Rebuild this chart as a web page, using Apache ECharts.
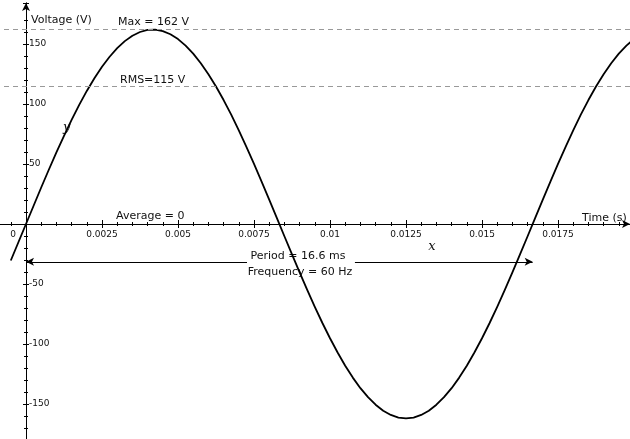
<!DOCTYPE html>
<html>
<head>
<meta charset="UTF-8">
<title>Voltage</title>
<style>
  html, body { margin: 0; padding: 0; background: #fff; }
  #main { width: 630px; height: 439px; }
</style>
</head>
<body>
<div id="main"></div>
<script src="https://cdn.jsdelivr.net/npm/echarts@6/dist/echarts.min.js"></script>
<script>
// samples: time in ms, voltage in V
var timesMs = [-0.5, -0.25, 0, 0.25, 0.5, 0.75, 1, 1.25, 1.5, 1.75,
  2, 2.25, 2.5, 2.75, 3, 3.25, 3.5, 3.75, 4, 4.25,
  4.5, 4.75, 5, 5.25, 5.5, 5.75, 6, 6.25, 6.5, 6.75,
  7, 7.25, 7.5, 7.75, 8, 8.25, 8.5, 8.75, 9, 9.25,
  9.5, 9.75, 10, 10.25, 10.5, 10.75, 11, 11.25, 11.5, 11.75,
  12, 12.25, 12.5, 12.75, 13, 13.25, 13.5, 13.75, 14, 14.25,
  14.5, 14.75, 15, 15.25, 15.5, 15.75, 16, 16.25, 16.5, 16.75,
  17, 17.25, 17.5, 17.75, 18, 18.25, 18.5, 18.75, 19, 19.25,
  19.5, 19.75, 20];
var volts = [-30.4, -15.2, 0, 15.2, 30.4, 45.2, 59.6, 73.5, 86.8, 99.3,
  110.9, 121.5, 131.1, 139.4, 146.6, 152.4, 156.9, 160, 161.7, 161.9,
  160.7, 158.1, 154.1, 148.7, 142, 134, 124.8, 114.6, 103.3, 91.1,
  78.1, 64.3, 50.1, 35.3, 20.3, 5.1, -10.2, -25.3, -40.3, -54.9,
  -69, -82.5, -95.2, -107.1, -118.1, -128, -136.8, -144.3, -150.6, -155.6,
  -159.1, -161.3, -162, -161.3, -159.1, -155.6, -150.6, -144.3, -136.8, -128,
  -118.1, -107.1, -95.2, -82.5, -69, -54.9, -40.3, -25.3, -10.2, 5.1,
  20.3, 35.3, 50.1, 64.3, 78.1, 91.1, 103.3, 114.6, 124.8, 134,
  142, 148.7, 154.1];

var vMax = 162;
var vRms = 115;
var period = 1 / 60;
var periodArrowY = -31.5;

var xTickStep = 0.0025;
var yTickStep = 50;

var FONT = 'DejaVu Sans';
var ink = '#111';

var myChart = echarts.init(document.getElementById('main'));

// grid spans x -50..630 px and y 3..464 px; zero sits at (26, 224)
var xRange = { min: -0.0025, max: 0.019868, interval: xTickStep };
var yRange = { min: -200, max: 184.17, interval: yTickStep };

function xLabel(v) {
  if (v === 0) return '{z|0}';
  return String(+v.toFixed(4));
}

var option = {
  animation: false,
  backgroundColor: '#fff',
  grid: { left: -50, right: 0, top: 3, bottom: -25, containLabel: false, outerBoundsMode: 'none' },
  xAxis: [{
    type: 'value', position: 'bottom', offset: -240,
    min: xRange.min, max: xRange.max, interval: xRange.interval,
    axisLine: { onZero: false, symbol: ['none', 'arrow'], symbolSize: [6, 8],
      lineStyle: { color: '#000', width: 1 } },
    axisTick: { show: true, length: 4, lineStyle: { color: '#000' } },
    minorTick: { show: true, splitNumber: 5, length: 2, lineStyle: { color: '#000' } },
    splitLine: { show: false },
    axisLabel: {
      margin: 6, fontSize: 9, fontFamily: FONT, color: ink,
      showMinLabel: false, showMaxLabel: false,
      formatter: xLabel,
      rich: { z: { fontSize: 9, fontFamily: FONT, color: ink, padding: [0, 26, 0, 0] } }
    }
  }, {
    // second copy only for the upper half of the ticks
    type: 'value', position: 'top', offset: -221,
    min: xRange.min, max: xRange.max, interval: xRange.interval,
    axisLine: { onZero: false, lineStyle: { color: '#000', width: 1 } },
    axisTick: { show: true, length: 4, lineStyle: { color: '#000' } },
    minorTick: { show: true, splitNumber: 5, length: 2, lineStyle: { color: '#000' } },
    splitLine: { show: false },
    axisLabel: { show: false }
  }],
  yAxis: [{
    type: 'value', position: 'left', offset: -76,
    min: yRange.min, max: yRange.max, interval: yRange.interval,
    axisLine: { onZero: false, symbol: ['none', 'arrow'], symbolSize: [6, 8],
      lineStyle: { color: '#000', width: 1 } },
    axisTick: { show: true, length: 3, lineStyle: { color: '#000' } },
    minorTick: { show: true, splitNumber: 5, length: 2, lineStyle: { color: '#000' } },
    splitLine: { show: false },
    axisLabel: {
      inside: true, margin: 3, fontSize: 9, fontFamily: FONT, color: ink,
      showMinLabel: false, showMaxLabel: false,
      formatter: function (v) { return v === 0 ? '' : String(v); }
    }
  }, {
    type: 'value', position: 'right', offset: -604,
    min: yRange.min, max: yRange.max, interval: yRange.interval,
    axisLine: { onZero: false, lineStyle: { color: '#000', width: 1 } },
    axisTick: { show: true, length: 3, lineStyle: { color: '#000' } },
    minorTick: { show: true, splitNumber: 5, length: 2, lineStyle: { color: '#000' } },
    splitLine: { show: false },
    axisLabel: { show: false }
  }],
  series: [{
    type: 'line',
    xAxisIndex: 0, yAxisIndex: 0,
    data: timesMs.map(function (t, i) { return [t / 1000, volts[i]]; }),
    showSymbol: false,
    smooth: false,
    clip: true,
    lineStyle: { color: '#000', width: 1.8, join: 'round' },
    markLine: {
      silent: true,
      symbol: ['none', 'none'],
      symbolSize: [6, 8],
      label: { show: false },
      data: [
        { yAxis: vMax, lineStyle: { color: '#999', width: 1, type: [5, 4] } },
        { yAxis: vRms, lineStyle: { color: '#999', width: 1, type: [5, 4] } },
        [
          { coord: [0, periodArrowY], symbol: 'arrow', lineStyle: { color: '#000', width: 1, type: 'solid' } },
          { coord: [0.00727, periodArrowY], symbol: 'none' }
        ],
        [
          { coord: [0.01082, periodArrowY], symbol: 'none', lineStyle: { color: '#000', width: 1, type: 'solid' } },
          { coord: [period, periodArrowY], symbol: 'arrow' }
        ]
      ]
    }
  }],
  graphic: [
    { type: 'text', x: 31, y: 20, style: { text: 'Voltage (V)', font: '11px "DejaVu Sans"', fill: ink, align: 'left', verticalAlign: 'middle' } },
    { type: 'text', x: 118, y: 22, style: { text: 'Max = 162 V', font: '11px "DejaVu Sans"', fill: ink, align: 'left', verticalAlign: 'middle' } },
    { type: 'text', x: 120, y: 80, style: { text: 'RMS=115 V', font: '11px "DejaVu Sans"', fill: ink, align: 'left', verticalAlign: 'middle' } },
    { type: 'text', x: 63, y: 128, style: { text: 'y', font: 'italic 13px "DejaVu Serif"', fill: ink, align: 'left', verticalAlign: 'middle' } },
    { type: 'text', x: 116, y: 216, style: { text: 'Average = 0', font: '11px "DejaVu Sans"', fill: ink, align: 'left', verticalAlign: 'middle' } },
    { type: 'text', x: 582, y: 218, style: { text: 'Time (s)', font: '11px "DejaVu Sans"', fill: ink, align: 'left', verticalAlign: 'middle' } },
    { type: 'text', x: 432, y: 247, style: { text: 'x', font: 'italic 13px "DejaVu Serif"', fill: ink, align: 'center', verticalAlign: 'middle' } },
    { type: 'text', x: 298, y: 256, style: { text: 'Period = 16.6 ms', font: '11px "DejaVu Sans"', fill: ink, align: 'center', verticalAlign: 'middle' } },
    { type: 'text', x: 300, y: 272, style: { text: 'Frequency = 60 Hz', font: '11px "DejaVu Sans"', fill: ink, align: 'center', verticalAlign: 'middle' } }
  ]
};

myChart.setOption(option);
</script>
</body>
</html>
